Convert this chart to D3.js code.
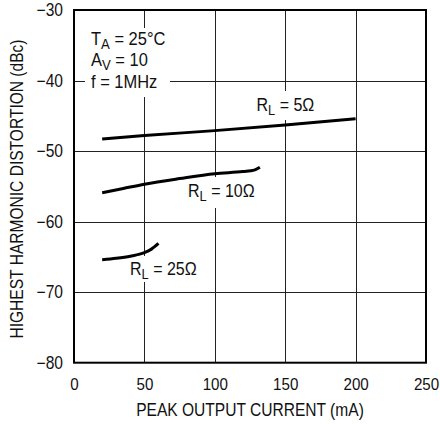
<!DOCTYPE html>
<html>
<head>
<meta charset="utf-8">
<script src="https://cdn.jsdelivr.net/npm/d3@7"></script>
<style>
  html, body { margin: 0; padding: 0; background: #fff; }
  svg { display: block; }
  text { font-family: "Liberation Sans", Arial, sans-serif; fill: #111; }
</style>
</head>
<body>
<svg id="chart" width="440" height="425"></svg>
<script>
// ---- data ----
const xTicks = [0, 50, 100, 150, 200, 250];
const yTicks = [-80, -70, -60, -50, -40, -30];

const rl5Current = [20, 50, 100, 150, 200];
const rl5Hd = [-48.3, -47.8, -47.1, -46.3, -45.4];

const rl10Current = [20, 35, 50, 75, 100, 120, 128, 132];
const rl10Hd = [-55.9, -55.3, -54.7, -53.9, -53.2, -52.9, -52.7, -52.3];

const rl25Current = [20, 30, 40, 50, 55, 60];
const rl25Hd = [-65.4, -65.2, -64.9, -64.4, -63.9, -63.1];

const xTitle = "PEAK OUTPUT CURRENT (mA)";
const yTitle = "HIGHEST HARMONIC DISTORTION (dBc)";

// ---- layout ----
const SX = 0.89; // horizontal condensing to mimic a condensed face
const svg = d3.select("#chart");
const L = 74, R = 426, T = 10, B = 362.7;
const x = d3.scaleLinear().domain([0, 250]).range([L, R]);
const y = d3.scaleLinear().domain([-80, -30]).range([B, T]);

// grid
const grid = svg.append("g");
grid.selectAll("line.v").data(xTicks.slice(1, -1)).enter().append("line")
  .attr("x1", d => Math.round(x(d)) + 0.5).attr("x2", d => Math.round(x(d)) + 0.5)
  .attr("y1", T).attr("y2", B)
  .attr("stroke", "#222").attr("stroke-width", 1);
grid.selectAll("line.h").data(yTicks.slice(1, -1)).enter().append("line")
  .attr("y1", d => Math.round(y(d)) + 0.5).attr("y2", d => Math.round(y(d)) + 0.5)
  .attr("x1", L).attr("x2", R)
  .attr("stroke", "#222").attr("stroke-width", 1);

// axes tick labels
const xAxis = d3.axisBottom(x).tickValues(xTicks).tickSize(0).tickPadding(15)
  .tickFormat(d3.format("d"));
const gx = svg.append("g").attr("transform", `translate(0,${B})`).call(xAxis);
gx.select(".domain").remove();
gx.selectAll("text").attr("font-size", 17).attr("font-family", null).attr("fill", "#111")
  .attr("transform", `scale(${SX},1)`);

const yAxis = d3.axisLeft(y).tickValues(yTicks).tickSize(0).tickPadding(11)
  .tickFormat(d => d < 0 ? "\u2212" + Math.abs(d) : d);
const gy = svg.append("g").attr("transform", `translate(${L},0)`).call(yAxis);
gy.select(".domain").remove();
gy.selectAll("text").attr("font-size", 17.5).attr("font-family", null).attr("fill", "#111")
  .attr("x", -11 / SX).attr("transform", `scale(${SX},1)`);

// condensed text helper
function ctext(parent, xp, yp, size, rot) {
  const g = parent.append("g")
    .attr("transform", `translate(${xp},${yp})` + (rot ? ` rotate(${rot})` : "") + ` scale(${SX},1)`);
  return g.append("text").attr("x", 0).attr("y", 0).attr("font-size", size);
}

// titles
ctext(svg, (L + R) / 2, 416, 17.5).attr("text-anchor", "middle").text(xTitle);
ctext(svg, 23, 189, 17.5, -90).attr("text-anchor", "middle").text(yTitle);

const bgLayer = svg.append("g");
const curveLayer = svg.append("g");
const textLayer = svg.append("g");

function subText(xp, yp, main, sub, rest, size) {
  const t = ctext(textLayer, xp, yp, size);
  t.append("tspan").text(main);
  t.append("tspan").attr("font-size", size * 0.8).attr("dy", 4).text(sub);
  t.append("tspan").attr("dy", -4).text(rest);
  return t;
}
function bg(x0, y0, x1, y1) {
  bgLayer.append("rect").attr("x", x0).attr("y", y0).attr("width", x1 - x0).attr("height", y1 - y0)
    .attr("fill", "#fff");
}

// annotation block
bg(85, 28, 170, 97);
subText(91, 45, "T", "A", " = 25\u00B0C", 18.5);
subText(91, 66, "A", "V", " = 10", 18.5);
ctext(textLayer, 91, 87.5, 18.5).text("f = 1MHz");

// curve labels
bg(252, 91, 322, 120);
subText(256.5, 111, "R", "L", " = 5\u03A9", 18);
bg(184, 177, 264, 208);
subText(188, 197, "R", "L", " = 10\u03A9", 18);
bg(126, 256, 204, 282);
subText(130, 275, "R", "L", " = 25\u03A9", 18);

// curves
const line = d3.line().x(d => x(d[0])).y(d => y(d[1])).curve(d3.curveMonotoneX);
[[rl5Current, rl5Hd], [rl10Current, rl10Hd], [rl25Current, rl25Hd]].forEach(([xs, ys]) => {
  curveLayer.append("path")
    .attr("d", line(xs.map((v, i) => [v, ys[i]])))
    .attr("fill", "none").attr("stroke", "#000").attr("stroke-width", 3)
    .attr("stroke-linecap", "butt");
});

// frame
svg.append("rect").attr("x", L).attr("y", T).attr("width", R - L).attr("height", B - T)
  .attr("fill", "none").attr("stroke", "#000").attr("stroke-width", 2);
</script>
</body>
</html>
